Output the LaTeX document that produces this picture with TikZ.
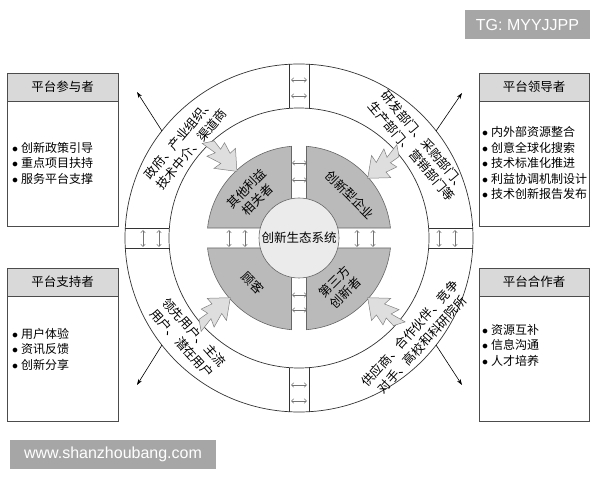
\documentclass[tikz,border=0pt]{standalone}
\usepackage{fontspec}
\newfontfamily\cjk{Noto Sans CJK SC}
\newfontfamily\wmfont{Liberation Sans}
\usetikzlibrary{arrows.meta,calc}
\newcommand\bul{\makebox[9pt][l]{$\bullet$}}
\begin{document}
\begin{tikzpicture}[x=1pt,y=1pt,
  ringline/.style={draw=black!80,line width=0.7pt},
  boxframe/.style={draw=black!70,line width=0.7pt,fill=white,inner sep=0pt,outer sep=0pt},
  headbox/.style={draw=black!70,line width=0.7pt,fill=black!15,inner sep=0pt,outer sep=0pt,font=\cjk\fontsize{12.5}{15}\selectfont},
  cjktext/.style={font=\cjk\fontsize{12}{15.5}\selectfont,inner sep=0pt},
  qtext/.style={font=\cjk\fontsize{12.5}{15.6}\selectfont,inner sep=0pt,align=center},
  ringtext/.style={font=\cjk\fontsize{12.5}{16.5}\selectfont,inner sep=0pt,align=center},
  quad/.style={draw=black!60,line width=0.6pt,fill=black!27},
  bolt/.style={draw=black!50,line width=0.5pt,fill=black!13},
  dbl/.style={draw=black!55,line width=0.5pt,{Straight Barb[length=2.5pt,width=4.5pt]}-{Straight Barb[length=2.5pt,width=4.5pt]}},
  outarrow/.style={draw=black,line width=0.6pt,-{Stealth[length=6pt,width=4pt]}},
  wm/.style={fill=black!35,text=white,font=\wmfont\fontsize{16}{18}\selectfont,inner sep=0pt}
]
\useasboundingbox (0,0) rectangle (600,480);
\fill[white] (0,0) rectangle (600,480);
\coordinate (C) at (299,242);

% outer ring
\node[circle,ringline,minimum size=348pt,inner sep=0pt,outer sep=0pt] (outer) at (C) {};
\node[circle,ringline,minimum size=260pt,inner sep=0pt,outer sep=0pt] (inner) at (C) {};

% ring gaps
\draw[ringline] (289,371.6) -- (289,415.7);
\draw[ringline] (309,371.6) -- (309,415.7);
\draw[ringline] (289,112.4) -- (289,68.3);
\draw[ringline] (309,112.4) -- (309,68.3);
\draw[ringline] (125.3,232) -- (169.4,232);
\draw[ringline] (125.3,252) -- (169.4,252);
\draw[ringline] (428.6,232) -- (472.7,232);
\draw[ringline] (428.6,252) -- (472.7,252);

% quadrants
\draw[quad] (306.5,252) -- (306.5,333.69) arc[start angle=85.32,end angle=6.24,radius=92] -- cycle;
\draw[quad] (291.5,252) -- (291.5,333.69) arc[start angle=94.68,end angle=173.76,radius=92] -- cycle;
\draw[quad] (291.5,232) -- (291.5,150.31) arc[start angle=265.32,end angle=186.24,radius=92] -- cycle;
\draw[quad] (306.5,232) -- (306.5,150.31) arc[start angle=274.68,end angle=353.76,radius=92] -- cycle;

% core
\node[circle,draw=black!60,line width=0.6pt,fill=black!8,minimum size=80pt,inner sep=0pt,font=\cjk\fontsize{12.5}{15}\selectfont] (core) at (C) {创新生态系统};

% quadrant labels
\node[qtext,rotate=45] (qtl) at (252,286) {其他利益\\相关者};
\node[qtext,rotate=-45] (qtr) at (350,285) {创新型企业};
\node[qtext,rotate=-45] (qbl) at (253,197) {顾客};
\node[qtext,rotate=45] (qbr) at (340,193) {第三方\\创新者};

% small double arrows
\foreach \n/\x/\y/\dx/\dy in {
  ra/291/400/16/0, rb/291/384/16/0, rc/291/95/16/0, rd/291/79/16/0,
  re/143/233/0/17, rf/159/233/0/17, rg/439/233/0/17, rh/455/233/0/17,
  qa/292/317/15/0, qb/292/300/15/0, qc/292/185/15/0, qd/292/170/15/0,
  qe/229/233/0/17, qf/245/233/0/17, qg/357/233/0/17, qh/373/233/0/17}{
  \coordinate (\n1) at (\x,\y);
  \coordinate (\n2) at (\x+\dx,\y+\dy);
  \draw[dbl] (\n1) -- (\n2);
}

% jagged arrows
\foreach \tx/\ty/\rot in {236.9/308.6/313, 367.7/301.7/221, 230.3/182.3/41, 367.7/182.3/139}{
  \begin{scope}[shift={(\tx,\ty)},rotate=\rot,scale=1.05]
    \draw[bolt] (0,0) -- (-17,-14) -- (-16,-6) -- (-30,-11) -- (-27,-3) -- (-42,-6)
      -- (-36,4) -- (-26,3) -- (-28,10) -- (-17,7) -- (-17,14) -- cycle;
  \end{scope}
}

% ring texts
\node[ringtext,rotate=50] (rtl) at (185,336) {政府、产业组织、\\技术中介、渠道商};
\node[ringtext,rotate=-50] (rtr) at (418,334) {研发部门、采购部门、\\生产部门、营销部门等};
\node[ringtext,rotate=-48] (rbl) at (188,142) {领先用户、主流\\用户、潜在用户};
\node[ringtext,rotate=48] (rbr) at (416,141) {供应商、合作伙伴、竞争\\对手、高校和科研院所};

% corner boxes
\node[boxframe,minimum width=111pt,minimum height=153pt,anchor=north west] (ltbox) at (7,407) {};
\node[headbox,minimum width=111pt,minimum height=28pt,anchor=north west] (lthead) at (7,407) {平台参与者};
\node[cjktext,anchor=west,align=left] (ltlist) at (12,317) {\bul 创新政策引导\\\bul 重点项目扶持\\\bul 服务平台支撑};

\node[boxframe,minimum width=110pt,minimum height=153pt,anchor=north west] (rtbox) at (479,407) {};
\node[headbox,minimum width=110pt,minimum height=28pt,anchor=north west] (rthead) at (479,407) {平台领导者};
\node[cjktext,anchor=west,align=left] (rtlist) at (482,317) {\bul 内外部资源整合\\\bul 创意全球化搜索\\\bul 技术标准化推进\\\bul 利益协调机制设计\\\bul 技术创新报告发布};

\node[boxframe,minimum width=111pt,minimum height=153pt,anchor=north west] (lbbox) at (7,212) {};
\node[headbox,minimum width=111pt,minimum height=28pt,anchor=north west] (lbhead) at (7,212) {平台支持者};
\node[cjktext,anchor=west,align=left] (lblist) at (12,131) {\bul 用户体验\\\bul 资讯反馈\\\bul 创新分享};

\node[boxframe,minimum width=110pt,minimum height=153pt,anchor=north west] (rbbox) at (479,212) {};
\node[headbox,minimum width=110pt,minimum height=28pt,anchor=north west] (rbhead) at (479,212) {平台合作者};
\node[cjktext,anchor=west,align=left] (rblist) at (482,135) {\bul 资源互补\\\bul 信息沟通\\\bul 人才培养};

% outward arrows
\coordinate (tlend) at (137,388);
\coordinate (trend) at (462,387);
\coordinate (blend) at (137,95);
\coordinate (brend) at (462,95);
\draw[outarrow] (outer.142) -- (tlend);
\draw[outarrow] (outer.38) -- (trend);
\draw[outarrow] (outer.218) -- (blend);
\draw[outarrow] (outer.322) -- (brend);

% watermarks
\node[wm,minimum width=125pt,minimum height=29pt] (tg) at (527.5,455.5) {TG: MYYJJPP};
\node[wm,minimum width=206pt,minimum height=29pt] (www) at (113,25.5) {www.shanzhoubang.com};
\end{tikzpicture}
\end{document}
